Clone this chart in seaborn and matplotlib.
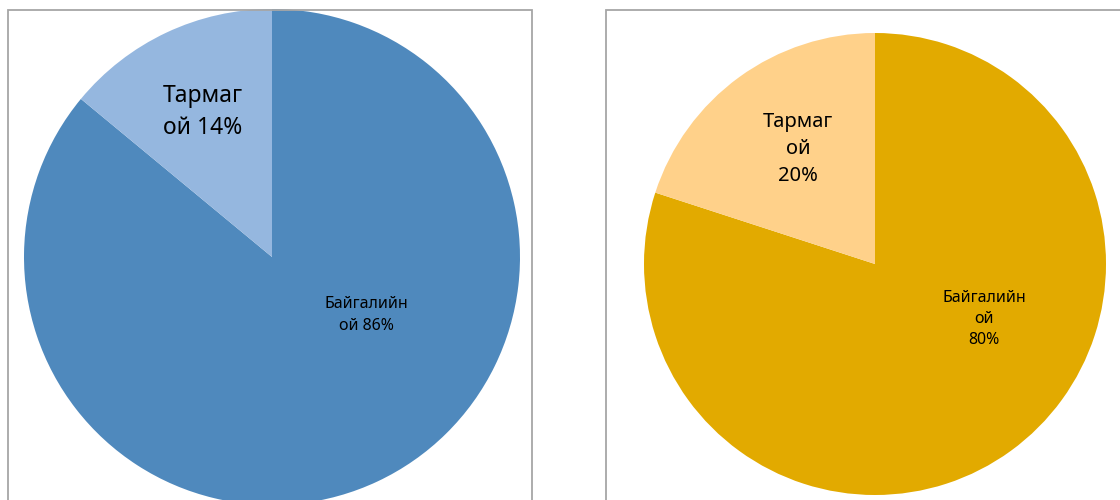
import matplotlib
matplotlib.use("Agg")
import seaborn as sns
from matplotlib import pyplot as plt
from matplotlib.patches import Rectangle

sns.set_theme(style="white")
plt.rcParams["font.family"] = ["Noto Sans", "DejaVu Sans"]

# === Data ===
categories = ["Байгалийн ой", "Тармаг ой"]
left_values = [86, 14]
right_values = [80, 20]
left_labels = ["Байгалийн\nой 86%", "Тармаг\nой 14%"]
right_labels = ["Байгалийн\nой\n80%", "Тармаг\nой\n20%"]

left_colors = ["#4F89BD", "#95B7DF"]
right_colors = ["#E2AA00", "#FFD18A"]

W, H = 1120, 500
fig = plt.figure(figsize=(W / 100, H / 100), dpi=100)


def px_axes(cx, cy, r):
    """axes square around a pie centre given in pixel coords (top-left origin)"""
    return fig.add_axes([(cx - r) / W, (H - cy - r) / H, 2 * r / W, 2 * r / H])


# chart frames
for x0, x1 in [(8, 532), (606, 1130)]:
    fig.add_artist(Rectangle((x0 / W, -0.05), (x1 - x0) / W, (H - 10) / H + 0.05,
                             transform=fig.transFigure, fill=False,
                             edgecolor="#A6A6A6", linewidth=1.3))


def draw_pie(ax, values, colors, labels, label_pos, label_sizes):
    ax.pie(values, colors=colors, startangle=90, counterclock=False,
           wedgeprops=dict(linewidth=0))
    ax.set_xlim(-1, 1)
    ax.set_ylim(-1, 1)
    ax.set_aspect("equal")
    ax.axis("off")
    for lab, (x, y), fs in zip(labels, label_pos, label_sizes):
        ax.text(x, y, lab, ha="center", va="center", fontsize=fs,
                color="black", linespacing=1.45)


ax1 = px_axes(272, 257, 248)
draw_pie(ax1, left_values, left_colors, left_labels,
         [(0.379, -0.234), (-0.28, 0.585)], [11.5, 16.5])

ax2 = px_axes(875, 264, 231)
draw_pie(ax2, right_values, right_colors, right_labels,
         [(0.472, -0.238), (-0.333, 0.498)], [11.5, 14.5])

fig.savefig("out.png", dpi=100)
